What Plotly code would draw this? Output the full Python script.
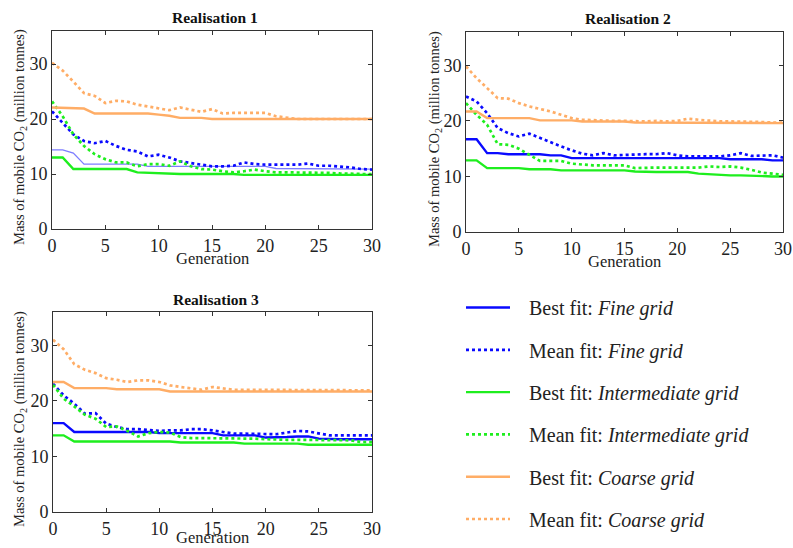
import plotly.graph_objects as go

generations = list(range(0, 31))

# Realisation 1
r1_best_fine = [14.4, 14.4, 13.8, 11.8, 11.8, 11.8, 11.8, 11.8, 11.8, 11.4, 11.4, 11.4, 11.4, 11.4, 11.4, 11.4,
                11.4, 11.4, 11.4, 11.4, 11.4, 11.0, 11.0, 11.0, 11.0, 10.9, 10.9, 10.9, 10.9, 10.9, 10.9]
r1_mean_fine = [21.4, 19.3, 17.2, 16.0, 15.6, 16.0, 15.1, 14.4, 14.1, 13.2, 13.5, 13.0, 12.3, 12.0, 11.7, 11.4,
                11.4, 11.5, 12.1, 11.8, 11.7, 11.7, 11.7, 11.7, 11.9, 11.5, 11.5, 11.4, 11.2, 10.9, 10.8]
r1_best_int = [13.0, 13.0, 10.9, 10.9, 10.9, 10.9, 10.9, 10.9, 10.3, 10.2, 10.2, 10.0, 10.0, 10.0, 10.0, 10.0,
               10.0, 10.0, 9.85, 9.85, 9.85, 9.85, 9.85, 9.85, 9.85, 9.85, 9.85, 9.85, 9.85, 9.85, 9.85]
r1_mean_int = [23.2, 20.5, 17.2, 15.1, 13.6, 12.7, 12.1, 12.1, 11.4, 11.8, 11.8, 11.5, 12.3, 11.4, 10.9, 10.8,
               10.5, 10.3, 10.5, 10.8, 10.5, 10.3, 10.3, 10.3, 10.3, 10.2, 10.2, 10.1, 10.0, 10.0, 10.0]
r1_best_coarse = [22.1, 22.0, 21.9, 21.9, 21.0, 21.0, 21.0, 21.0, 21.0, 21.0, 20.8, 20.6, 20.2, 20.2, 20.2, 20.0,
                  20.0, 20.0, 20.0, 20.0, 20.0, 20.0, 20.0, 20.0, 20.0, 20.0, 20.0, 20.0, 20.0, 20.0, 20.0]
r1_mean_coarse = [30.2, 28.8, 26.8, 24.7, 24.2, 22.9, 23.3, 23.2, 22.6, 22.3, 22.0, 21.6, 22.1, 21.7, 21.3, 21.8,
                  21.0, 21.1, 21.1, 21.0, 21.1, 20.5, 20.2, 20.0, 20.0, 20.0, 20.0, 20.0, 20.0, 20.0, 20.0]

# Realisation 2
r2_best_fine = [16.7, 16.7, 14.2, 14.2, 14.0, 14.0, 14.0, 14.0, 13.8, 13.8, 13.3, 13.3, 13.3, 13.3, 13.3, 13.3,
                13.3, 13.3, 13.3, 13.3, 13.3, 13.3, 13.3, 13.3, 13.3, 13.1, 13.1, 13.1, 13.1, 12.9, 12.9]
r2_mean_fine = [24.4, 23.5, 21.4, 18.7, 17.8, 17.2, 17.7, 16.9, 16.1, 15.4, 14.7, 14.1, 13.8, 14.2, 13.8, 13.9,
                14.0, 14.0, 14.0, 14.2, 13.8, 13.6, 13.6, 13.6, 13.6, 13.8, 14.2, 13.7, 13.8, 13.8, 13.4]
r2_best_int = [12.9, 12.9, 11.5, 11.5, 11.5, 11.5, 11.3, 11.3, 11.3, 11.1, 11.1, 11.1, 11.1, 11.1, 11.1, 11.1,
               10.9, 10.8, 10.8, 10.8, 10.8, 10.8, 10.5, 10.4, 10.2, 10.2, 10.2, 10.1, 10.1, 10.0, 10.0]
r2_mean_int = [23.2, 21.1, 19.3, 15.8, 15.7, 15.0, 13.9, 12.8, 12.8, 12.8, 12.3, 12.1, 12.0, 12.0, 12.0, 12.0,
               11.5, 11.6, 11.6, 11.6, 11.6, 11.6, 11.6, 11.8, 11.7, 11.8, 11.6, 11.2, 10.7, 10.5, 10.3]
r2_best_coarse = [21.7, 21.7, 20.5, 20.5, 20.5, 20.5, 20.5, 20.1, 20.1, 20.1, 20.1, 19.9, 19.9, 19.9, 19.9, 19.9,
                  19.7, 19.7, 19.7, 19.7, 19.7, 19.7, 19.7, 19.7, 19.6, 19.6, 19.6, 19.6, 19.6, 19.6, 19.6]
r2_mean_coarse = [29.8, 27.7, 25.9, 24.1, 24.0, 23.2, 22.6, 22.2, 21.7, 21.1, 20.5, 20.2, 20.1, 20.1, 20.0, 20.0,
                  19.9, 19.9, 20.0, 19.9, 20.0, 20.4, 20.2, 20.0, 19.9, 19.9, 19.9, 19.8, 19.8, 19.7, 19.7]

# Realisation 3
r3_best_fine = [16.0, 16.0, 14.4, 14.4, 14.4, 14.4, 14.4, 14.4, 14.4, 14.4, 14.2, 14.2, 14.2, 14.2, 14.2, 14.2,
                13.8, 13.8, 13.8, 13.8, 13.4, 13.4, 13.5, 13.6, 13.6, 13.2, 13.1, 13.1, 13.1, 13.1, 13.1]
r3_mean_fine = [23.1, 21.0, 19.5, 17.7, 17.8, 15.9, 15.3, 14.9, 14.9, 14.7, 14.6, 14.7, 14.7, 14.9, 14.9, 14.7,
                14.4, 14.1, 14.1, 14.1, 14.0, 14.0, 14.3, 14.6, 14.5, 14.2, 13.8, 13.8, 13.8, 13.8, 13.8]
r3_best_int = [13.8, 13.8, 12.7, 12.7, 12.7, 12.7, 12.7, 12.7, 12.7, 12.7, 12.7, 12.7, 12.5, 12.5, 12.5, 12.5,
               12.5, 12.5, 12.3, 12.3, 12.3, 12.3, 12.3, 12.3, 12.1, 12.1, 12.1, 12.1, 12.1, 12.1, 12.1]
r3_mean_int = [22.9, 20.4, 19.0, 17.5, 16.8, 15.3, 15.4, 14.6, 13.6, 14.2, 14.4, 14.3, 13.5, 13.3, 13.3, 13.3,
               13.2, 13.2, 13.2, 13.2, 13.1, 13.0, 13.0, 13.0, 13.0, 13.0, 13.0, 13.0, 12.9, 12.6, 12.6]
r3_best_coarse = [23.4, 23.4, 22.3, 22.3, 22.3, 22.3, 22.1, 22.1, 22.1, 22.1, 22.1, 21.7, 21.7, 21.7, 21.7, 21.7,
                  21.7, 21.7, 21.7, 21.7, 21.7, 21.7, 21.7, 21.7, 21.7, 21.7, 21.7, 21.7, 21.7, 21.7, 21.7]
r3_mean_coarse = [31.0, 29.3, 26.6, 25.6, 25.0, 24.1, 23.8, 23.4, 23.7, 23.7, 23.4, 22.8, 22.5, 22.2, 22.0, 22.5,
                  22.2, 22.0, 22.0, 22.0, 22.0, 22.0, 22.0, 21.9, 21.9, 21.9, 21.9, 21.9, 21.9, 21.9, 21.9]

series_names = [
    "Best fit: <i>Fine grid</i>",
    "Mean fit: <i>Fine grid</i>",
    "Best fit: <i>Intermediate grid</i>",
    "Mean fit: <i>Intermediate grid</i>",
    "Best fit: <i>Coarse grid</i>",
    "Mean fit: <i>Coarse grid</i>",
]
titles = ["Realisation 1", "Realisation 2", "Realisation 3"]
y_title = "Mass of mobile CO<sub>2</sub> (million tonnes)"
x_title = "Generation"
y_ticks = [0, 10, 20, 30]

BLUE = "#0a0aff"
GREEN = "#1eee1e"
ORANGE = "#ffad66"
styles = [
    dict(color=BLUE, width=2.4, dash="solid"),
    dict(color=BLUE, width=2.7, dash="dot"),
    dict(color=GREEN, width=2.4, dash="solid"),
    dict(color=GREEN, width=2.7, dash="dot"),
    dict(color=ORANGE, width=2.4, dash="solid"),
    dict(color=ORANGE, width=2.7, dash="dot"),
]

realisations = [
    [r1_best_fine, r1_mean_fine, r1_best_int, r1_mean_int, r1_best_coarse, r1_mean_coarse],
    [r2_best_fine, r2_mean_fine, r2_best_int, r2_mean_int, r2_best_coarse, r2_mean_coarse],
    [r3_best_fine, r3_mean_fine, r3_best_int, r3_mean_int, r3_best_coarse, r3_mean_coarse],
]

FONT = "Liberation Serif"
W, H = 793, 548
LEGEND_PAD = "&nbsp;&nbsp;&#8201;"

fig = go.Figure()
axis_ids = [("x", "y"), ("x2", "y2"), ("x3", "y3")]
for p, data in enumerate(realisations):
    xa, ya = axis_ids[p]
    for i, vals in enumerate(data):
        st = dict(styles[i])
        if p == 0 and i == 0:
            st = dict(color="#7d7dff", width=1.3, dash="solid")
        fig.add_trace(go.Scatter(
            x=generations, y=vals, mode="lines", name=LEGEND_PAD + series_names[i],
            line=st, xaxis=xa, yaxis=ya,
            legendgroup=series_names[i], showlegend=(p == 1),
        ))

# plot area boxes in pixels (left, right, top, bottom)
boxes = [(52, 372, 31, 229), (466, 783, 32, 232), (53, 372, 312, 512)]


def px_x(v):
    return v / W


def px_y(v):
    return 1 - v / H


axis_common = dict(
    showline=True, linecolor="#333333", linewidth=1, mirror="ticks",
    ticks="inside", ticklen=4, tickcolor="#333333", showgrid=False, zeroline=False,
    tickfont=dict(family=FONT, size=18, color="#222222"),
)
layout = dict()
for p, (l, r, t, b) in enumerate(boxes):
    sfx = "" if p == 0 else str(p + 1)
    layout["xaxis" + sfx] = dict(
        axis_common, domain=[px_x(l), px_x(r)], range=[0, 30], dtick=5,
        anchor="y" + sfx,
    )
    layout["yaxis" + sfx] = dict(
        axis_common, domain=[px_y(b), px_y(t)], range=[0, 36], tickvals=y_ticks,
        anchor="x" + sfx,
    )

annotations = []
title_y = [17, 19, 299]
gen_y = [258, 261, 537]
ylab_x = [20, 435, 20]
for p, (l, r, t, b) in enumerate(boxes):
    annotations.append(dict(
        text="<b>" + titles[p] + "</b>", x=px_x((l + r) / 2 + 3), y=px_y(title_y[p]),
        xref="paper", yref="paper", showarrow=False, xanchor="center", yanchor="middle",
        font=dict(family=FONT, size=15.5, color="#111111"),
    ))
    annotations.append(dict(
        text=x_title, x=px_x((l + r) / 2), y=px_y(gen_y[p]),
        xref="paper", yref="paper", showarrow=False, xanchor="center", yanchor="middle",
        font=dict(family=FONT, size=16.5, color="#222222"),
    ))
    annotations.append(dict(
        text=y_title, x=px_x(ylab_x[p]), y=px_y((t + b) / 2 + 7),
        xref="paper", yref="paper", showarrow=False, xanchor="center", yanchor="middle",
        textangle=-90, font=dict(family=FONT, size=14.5, color="#222222"),
    ))

fig.update_layout(
    **layout,
    annotations=annotations,
    width=W, height=H,
    margin=dict(l=0, r=0, t=0, b=0, autoexpand=False),
    paper_bgcolor="white", plot_bgcolor="white",
    legend=dict(
        x=px_x(461), y=px_y(288), xanchor="left", yanchor="top",
        traceorder="grouped", tracegroupgap=13.3, itemwidth=44,
        font=dict(family=FONT, size=20, color="#222222"),
        bgcolor="rgba(0,0,0,0)",
    ),
)

fig.write_html("out.html", config={"displayModeBar": False},
               post_script="document.body.style.margin='0px';")
